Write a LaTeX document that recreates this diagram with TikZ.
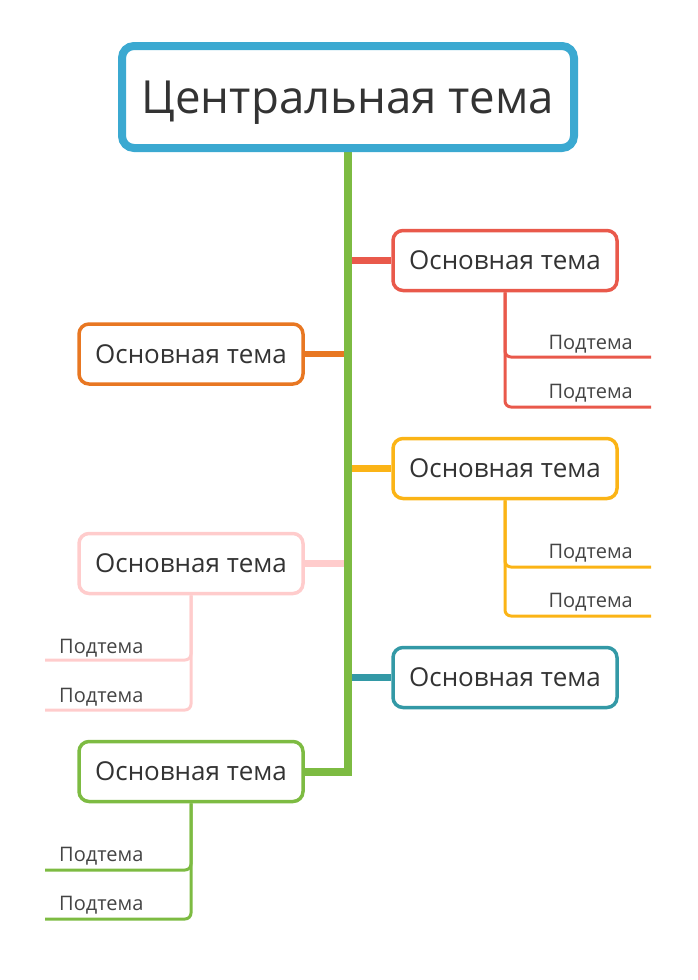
\documentclass[tikz,border=0pt]{standalone}
\usepackage{fontspec}
\setmainfont{Open Sans}
\usetikzlibrary{positioning,backgrounds}
\definecolor{topicblue}{HTML}{3BA9D1}
\definecolor{trunkgreen}{HTML}{7DBB42}
\definecolor{topicred}{HTML}{E9594B}
\definecolor{topicorange}{HTML}{E87722}
\definecolor{topicyellow}{HTML}{FBB416}
\definecolor{topicpink}{HTML}{FFCCCC}
\definecolor{topicteal}{HTML}{3399A6}
\definecolor{textgray}{HTML}{333333}
\definecolor{subgray}{HTML}{444444}
\tikzset{
  centbox/.style={draw=topicblue,line width=8pt,rounded corners=12pt,fill=white,
                  minimum width=452pt,minimum height=102pt,text=textgray,
                  text depth=0pt,font=\fontsize{45.6}{52}\selectfont},
  mainbox/.style={draw=#1,line width=3.5pt,rounded corners=10pt,fill=white,
                  minimum width=224pt,minimum height=60pt,text=textgray,
                  font=\fontsize{26}{30}\selectfont},
  subtext/.style={font=\fontsize{20}{23}\selectfont,text=subgray,inner sep=0pt},
  branch/.style={draw=#1,line width=6.5pt},
  trunk/.style={draw=trunkgreen,line width=8pt},
  subline/.style={draw=#1,line width=3pt,rounded corners=6pt},
}

\begin{document}
\begin{tikzpicture}[x=1pt,y=-1pt]
\useasboundingbox (0,0) rectangle (697,980);
% central topic
\node[centbox] (central) at (348,97) {Центральная тема};
% main topics
\node[mainbox=topicred]    (mred)    at (505,260.5) {Основная тема};
\node[mainbox=topicorange] (morange) at (191,354)   {Основная тема};
\node[mainbox=topicyellow] (myellow) at (505,468.5) {Основная тема};
\node[mainbox=topicpink]   (mpink)   at (191,563.5) {Основная тема};
\node[mainbox=topicteal]   (mteal)   at (505,677.5) {Основная тема};
\node[mainbox=trunkgreen]  (mgreen)  at (191,771.5) {Основная тема};
% subtopics, right side
\node[subtext,anchor=base east] (red1)    at (633,349) {Подтема};
\node[subtext,anchor=base east] (red2)    at (633,398) {Подтема};
\node[subtext,anchor=base east] (yellow1) at (633,558) {Подтема};
\node[subtext,anchor=base east] (yellow2) at (633,607) {Подтема};
% subtopics, left side
\node[subtext,anchor=base west] (pink1)  at (59,653) {Подтема};
\node[subtext,anchor=base west] (pink2)  at (59,702) {Подтема};
\node[subtext,anchor=base west] (green1) at (59,861) {Подтема};
\node[subtext,anchor=base west] (green2) at (59,910) {Подтема};
% line ends under the subtopics
\coordinate (red1end)    at (651,357);
\coordinate (red2end)    at (651,407);
\coordinate (yellow1end) at (651,567);
\coordinate (yellow2end) at (651,616);
\coordinate (pink1end)   at (45,660);
\coordinate (pink2end)   at (45,710);
\coordinate (green1end)  at (45,870);
\coordinate (green2end)  at (45,919);
\begin{scope}[on background layer]
  % branches from the trunk
  \draw[branch=topicred]    (central.south |- mred.west)    -- (mred.west);
  \draw[branch=topicorange] (central.south |- morange.east) -- (morange.east);
  \draw[branch=topicyellow] (central.south |- myellow.west) -- (myellow.west);
  \draw[branch=topicpink]   (central.south |- mpink.east)   -- (mpink.east);
  \draw[branch=topicteal]   (central.south |- mteal.west)   -- (mteal.west);
  % trunk
  \draw[trunk] (central.south) -- (central.south |- mgreen.east) -- (mgreen.east);
  % subtopic lines
  \foreach \topic/\col in {red/topicred,yellow/topicyellow,pink/topicpink,green/trunkgreen}{
    \draw[subline=\col] (m\topic.south) |- (\topic1end);
    \draw[subline=\col] (m\topic.south) |- (\topic2end);
  }
\end{scope}
\end{tikzpicture}
\end{document}
